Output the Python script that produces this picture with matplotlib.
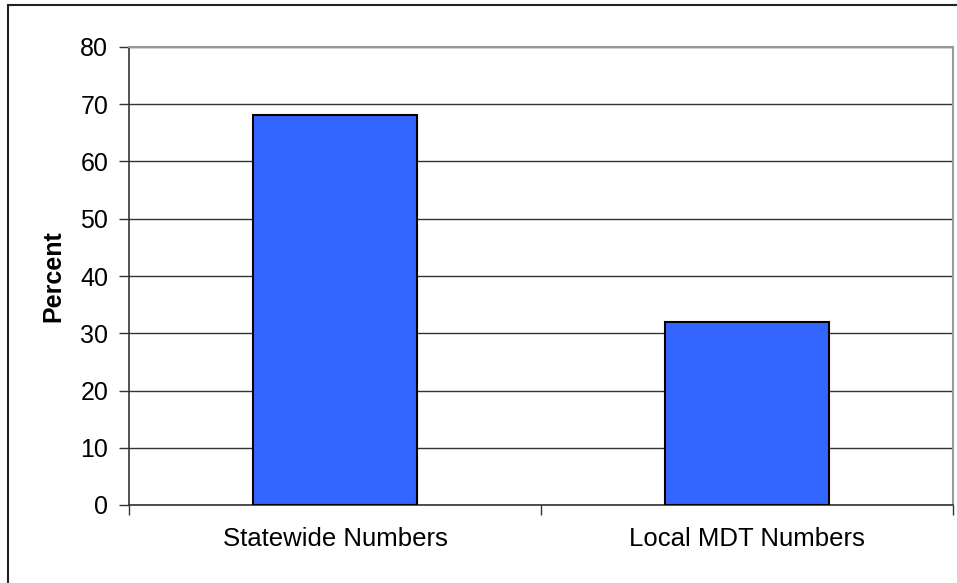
import matplotlib
matplotlib.use("Agg")
import matplotlib.pyplot as plt
from matplotlib.patches import Rectangle

# === dane ===
categories = ["Statewide Numbers", "Local MDT Numbers"]
percent = [68.1, 31.9]
y_ticks = [0, 10, 20, 30, 40, 50, 60, 70, 80]

plt.rcParams["font.family"] = ["Liberation Sans", "DejaVu Sans"]

W, H = 957, 583
fig = plt.figure(figsize=(W / 100, H / 100), dpi=100)

# ramka wokół całego wykresu (ucięta z prawej i z dołu)
fig.patches.append(Rectangle((8 / W, -0.1), 1.2, 1 - 5 / H + 0.1,
                             transform=fig.transFigure, fill=False,
                             edgecolor="#222222", linewidth=1.5, zorder=0))

ax = fig.add_axes([129 / W, 1 - 505 / H, (953 - 129) / W, (505 - 47) / H])

x = range(len(categories))
ax.bar(x, percent, width=0.4, color="#3366FF", edgecolor="black",
       linewidth=1.5, zorder=3)

ax.set_xlim(-0.5, len(categories) - 0.5)
ax.set_ylim(0, 80)
ax.set_yticks(y_ticks)
ax.yaxis.grid(True, color="#333333", linewidth=1)
ax.set_axisbelow(True)

# etykiety kategorii bez kresek, kreski na granicach kategorii
ax.set_xticks(list(x))
ax.set_xticklabels(categories)
ax.set_xticks([-0.5, 0.5, 1.5], minor=True)
ax.tick_params(axis="x", which="major", length=0, pad=16, labelsize=18.5)
ax.tick_params(axis="x", which="minor", length=7, width=1, color="#333333")
ax.tick_params(axis="y", length=7, width=1, color="#333333", pad=8, labelsize=18)

for side in ["top", "right"]:
    ax.spines[side].set_color("#999999")
    ax.spines[side].set_linewidth(1.5)
for side in ["left", "bottom"]:
    ax.spines[side].set_color("#333333")
    ax.spines[side].set_linewidth(1.2)

ax.set_ylabel("Percent", fontsize=18, fontweight="bold", labelpad=11)

fig.savefig("out.png", dpi=100)
